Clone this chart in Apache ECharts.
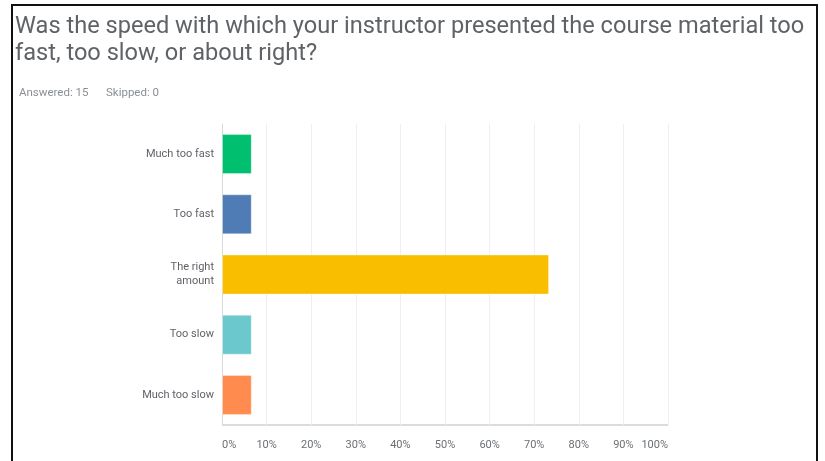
<!DOCTYPE html>
<html>
<head>
<meta charset="utf-8">
<script src="https://cdn.jsdelivr.net/npm/echarts@6/dist/echarts.min.js"></script>
<style>
  html, body { margin: 0; padding: 0; background: #fff; }
  #chart { width: 825px; height: 461px; }
</style>
</head>
<body>
<div id="chart"></div>
<script>
// Survey question responses (percent of 15 respondents)
const categories = ['Much too fast', 'Too fast', 'The right amount', 'Too slow', 'Much too slow'];
const percents = [6.67, 6.67, 73.33, 6.67, 6.67];
const barColors = ['#00bf6f', '#507cb6', '#f9be00', '#6bc8cd', '#ff8b4f'];
const tickValues = [0, 10, 20, 30, 40, 50, 60, 70, 80, 90, 100];

const questionText = 'Was the speed with which your instructor presented the course material too\nfast, too slow, or about right?';
const answeredText = 'Answered: 15';
const skippedText = 'Skipped: 0';

const chart = echarts.init(document.getElementById('chart'), null, { renderer: 'canvas' });

chart.setOption({
  backgroundColor: '#ffffff',
  animation: false,
  title: [
    {
      text: questionText,
      left: 10,
      top: 9,
      textStyle: {
        fontFamily: 'Roboto',
        fontWeight: 'normal',
        fontSize: 23.6,
        lineHeight: 27,
        color: '#5f6368'
      }
    },
    {
      text: answeredText,
      left: 14,
      top: 82,
      textStyle: { fontFamily: 'Roboto', fontWeight: 'normal', fontSize: 11.5, color: '#8a8f94' }
    },
    {
      text: skippedText,
      left: 101,
      top: 82,
      textStyle: { fontFamily: 'Roboto', fontWeight: 'normal', fontSize: 11.5, color: '#8a8f94' }
    }
  ],
  grid: {
    left: 222,
    right: 157,
    top: 124,
    height: 301,
    containLabel: false
  },
  xAxis: {
    type: 'value',
    min: tickValues[0],
    max: tickValues[tickValues.length - 1],
    interval: 10,
    axisLine: { show: false },
    axisTick: { show: false },
    splitLine: { show: true, lineStyle: { color: '#efefef', width: 1 } },
    axisLabel: {
      formatter: v => v + '%',
      color: '#6b7075',
      fontFamily: 'Roboto',
      fontSize: 11,
      margin: 15,
      alignMinLabel: 'left',
      alignMaxLabel: 'right'
    }
  },
  yAxis: {
    type: 'category',
    data: categories,
    inverse: true,
    axisLine: { show: true, lineStyle: { color: '#d9d9d9', width: 1 } },
    axisTick: { show: false },
    splitLine: { show: false },
    axisLabel: {
      color: '#5f6368',
      fontFamily: 'Roboto',
      fontSize: 11,
      lineHeight: 14,
      margin: 8,
      formatter: v => v === 'The right amount' ? 'The right\namount' : v
    }
  },
  series: [
    {
      type: 'bar',
      data: percents.map((v, i) => ({ value: v, itemStyle: { color: barColors[i] } })),
      barWidth: 40,
      itemStyle: { borderColor: 'rgba(255,255,255,0.35)', borderWidth: 1 },
      label: { show: false }
    }
  ],
  graphic: [
    // bottom axis baseline
    {
      type: 'line',
      shape: { x1: 222, y1: 425, x2: 668, y2: 425 },
      style: { stroke: '#dcdcdc', lineWidth: 2 },
      silent: true
    },
    // outer frame
    {
      type: 'rect',
      shape: { x: 12, y: 5, width: 805, height: 470 },
      style: { fill: 'none', stroke: '#111111', lineWidth: 2 },
      silent: true
    }
  ]
});
</script>
</body>
</html>
